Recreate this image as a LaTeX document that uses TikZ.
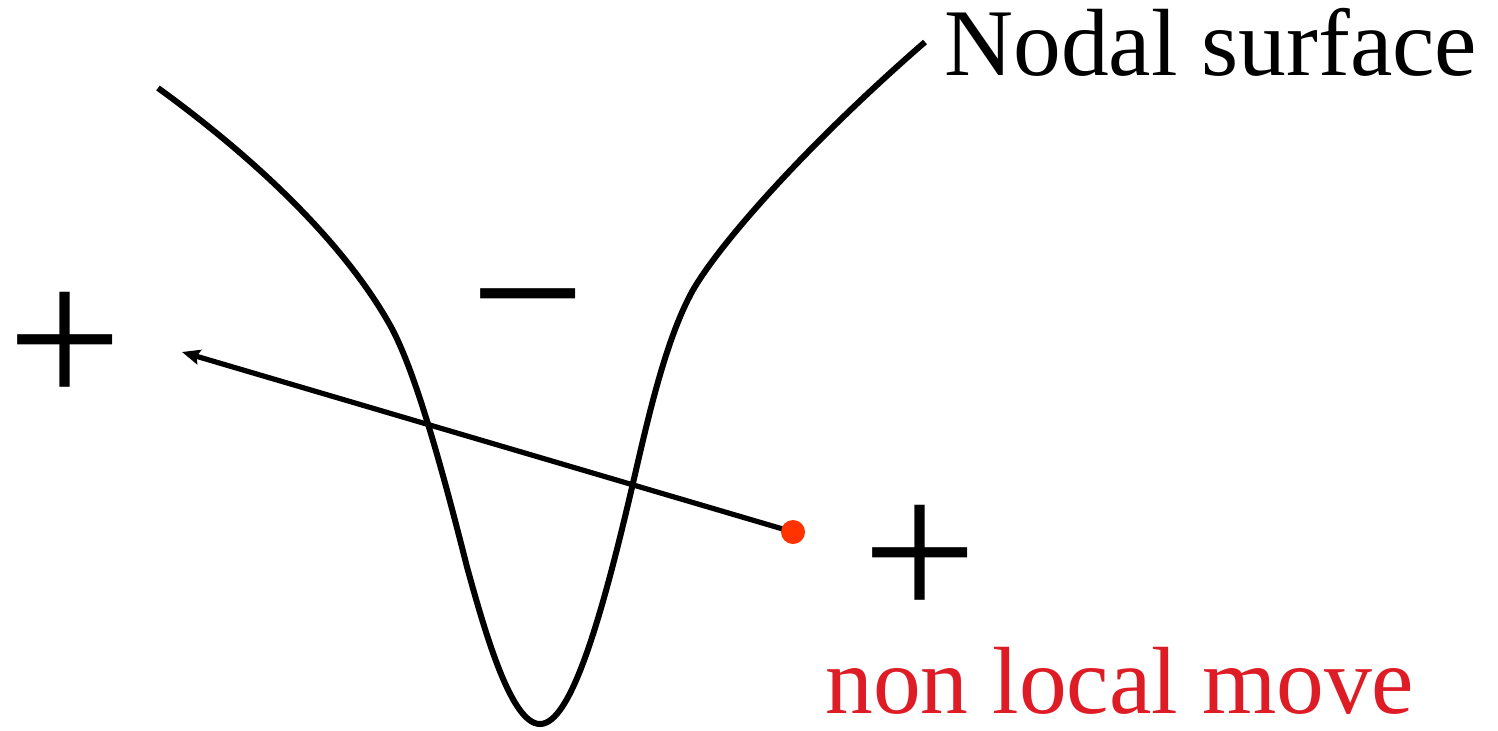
\documentclass[tikz,border=0pt]{standalone}
\usepackage{fontspec}
\setmainfont{Liberation Serif}
\usetikzlibrary{arrows.meta}
\definecolor{dotred}{RGB}{255,51,0}
\definecolor{txtred}{RGB}{221,28,38}
\tikzset{
  curve/.style={line width=3pt, black},
  mover/.style={line width=2.6pt, black, -{Stealth[length=9pt,width=7.5pt,inset=1.5pt]}},
  bigtext/.style={anchor=base west, inner sep=0pt, text depth=0pt, text height=0.68em, font=\fontsize{47.75}{50}\selectfont},
  sign/.style={anchor=base west, inner sep=0pt, text depth=0pt, text height=0.62em, font=\fontsize{102}{104}\selectfont},
  reddot/.style={circle, fill=dotred, minimum size=12pt, inner sep=0pt}
}
\begin{document}
\begin{tikzpicture}[x=0.5pt,y=-0.5pt]
\useasboundingbox (0,0) rectangle (1498,730);
% nodal surface
\draw[curve] (158,88) .. controls (260,162) and (345,245) .. (390,325)
  .. controls (414,368) and (440,460) .. (467,567)
  .. controls (485,632) and (511,724) .. (540,724)
  .. controls (570,724) and (600,625) .. (633,483)
  .. controls (647,423) and (665,340) .. (693,290)
  .. controls (722,240) and (812,140) .. (925,42);
\node[bigtext] (label) at (944,75) {Nodal surface};
% signs
\node[sign] (plusL) at (7,407) {+};
\node[sign] (minus) at (470,361) {−};
\node[sign] (plusR) at (862,620) {+};
% move
\coordinate (start) at (793,532);
\coordinate (tip) at (182,352);
\draw[mover] (start) -- (tip);
\node[reddot] (dot) at (start) {};
\node[bigtext, text=txtred] (move) at (825,713) {non local move};
\end{tikzpicture}
\end{document}
